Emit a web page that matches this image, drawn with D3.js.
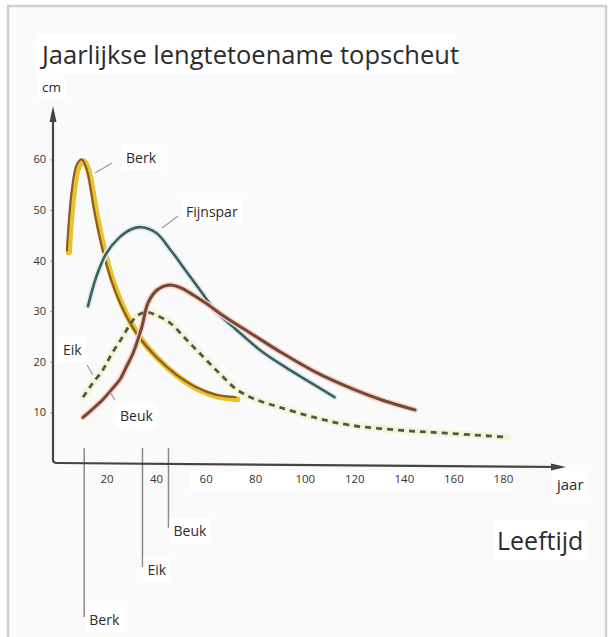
<!DOCTYPE html>
<html>
<head>
<meta charset="utf-8">
<script src="https://cdn.jsdelivr.net/npm/d3@7"></script>
<style>
  body { margin: 0; background: #fff; }
  svg { display: block; font-family: "Open Sans", sans-serif; }
</style>
</head>
<body>
<svg id="chart"></svg>
<script>
// series: age (jaar) and yearly top-shoot growth (cm)
var berkAge = [4, 6, 8, 10, 12, 15, 18, 22, 27, 33, 40, 48, 56, 64, 72];
var berkCm  = [42, 54, 59, 60, 58, 50, 43, 36, 30, 25, 21, 17.5, 15, 13.5, 13];

var fijnsparAge = [12.5, 16, 20, 25, 30, 34, 40, 46, 52, 58, 64, 72, 82, 92, 102, 112];
var fijnsparCm  = [31, 37, 41.5, 44.5, 46.2, 46.6, 45.5, 42, 38, 34, 30, 26.5, 22.3, 19, 16, 13];

var beukAge = [10.5, 14, 18.6, 22, 25.4, 28, 30.7, 34.3, 36.7, 40.4, 45.6, 50, 55, 60, 68, 78, 90, 105, 120, 132, 144.5];
var beukCm  = [9, 10.5, 12.6, 14.5, 16.5, 19, 21.7, 27, 31.6, 34.2, 35.2, 34.6, 33.2, 31.6, 28.8, 25.7, 22, 17.8, 14.5, 12.3, 10.5];

var eikAge = [10.5, 14, 18.6, 22, 26.6, 30, 33, 36.3, 40, 45.6, 52, 59, 66, 72.6, 80, 90, 104, 118, 138, 157, 182];
var eikCm  = [13, 15.5, 18.5, 21.5, 25, 27.8, 29.3, 29.8, 29.2, 27.7, 24.5, 21, 17.5, 14.5, 12.6, 11, 9, 7.5, 6.5, 5.9, 5.1];

// age of the top of each curve, marked below the axis
var peakNames = ["Berk", "Eik", "Beuk"];
var peakAges  = [11, 34.5, 45];

var xTicks = [20, 40, 60, 80, 100, 120, 140, 160, 180];
var yTicks = [10, 20, 30, 40, 50, 60];

var width = 610, height = 637;

var svg = d3.select("#chart")
    .attr("width", width)
    .attr("height", height);

// frame
svg.append("rect")
    .attr("x", 8).attr("y", 6)
    .attr("width", 598).attr("height", 645)
    .attr("fill", "#fafafa")
    .attr("stroke", "#cfcfcf")
    .attr("stroke-width", 2.5);

var x = d3.scaleLinear().domain([0, 200]).range([57, 552.5]);
var y = d3.scaleLinear().domain([0, 60]).range([463, 159.4]);

function zip(a, b) { return a.map(function(v, i) { return [v, b[i]]; }); }

var line = d3.line()
    .x(function(d) { return x(d[0]); })
    .y(function(d) { return y(d[1]); })
    .curve(d3.curveCatmullRom.alpha(0.5));

// text with a white box behind it, like the pasted labels in the original
function label(tx, ty, txt, size, anchor, color) {
  var t = svg.append("text")
      .attr("x", tx).attr("y", ty)
      .attr("font-size", size)
      .attr("fill", color || "#2b2b2b")
      .attr("text-anchor", anchor || "start")
      .text(txt);
  var b = t.node().getBBox();
  svg.insert("rect", function() { return t.node(); })
      .attr("x", b.x - 4).attr("y", b.y - 3)
      .attr("width", b.width + 8).attr("height", b.height + 6)
      .attr("fill", "#fff");
  return t;
}

label(42, 64, "Jaarlijkse lengtetoename topscheut", 25)
    .attr("textLength", 417).attr("lengthAdjust", "spacingAndGlyphs");
label(42, 92, "cm", 13.5);

// axis ticks labels
var gy = svg.append("g")
    .attr("transform", "translate(53,0)")
    .call(d3.axisLeft(y).tickValues(yTicks).tickSize(3).tickPadding(4));
gy.select(".domain").remove();
gy.selectAll("line").attr("stroke", "#aaa");
gy.selectAll("text").attr("font-size", 11).attr("fill", "#333")
    .attr("font-family", "Open Sans, sans-serif");

svg.append("rect")
    .attr("x", 190).attr("y", 471).attr("width", 322).attr("height", 20)
    .attr("fill", "#fff");
var gx = svg.append("g")
    .attr("transform", "translate(0,463)")
    .call(d3.axisBottom(x).tickValues(xTicks).tickSize(0).tickPadding(12));
gx.select(".domain").remove();
gx.selectAll("text").attr("font-size", 11.5).attr("fill", "#333")
    .attr("font-family", "Open Sans, sans-serif");

// peak markers below the axis
var markEnds = [617, 567, 528];
peakAges.forEach(function(a, i) {
  svg.append("line")
      .attr("x1", x(a)).attr("x2", x(a))
      .attr("y1", 448).attr("y2", markEnds[i])
      .attr("stroke", "#8a8a8a").attr("stroke-width", 1.5);
  label(x(a) + 5, markEnds[i] + 8, peakNames[i], 14);
});

// axis lines with arrows
var axisColor = "#444";
svg.append("path")
    .attr("d", "M53,112 L53,460 Q53,463 57,463 L560,467")
    .attr("fill", "none").attr("stroke", axisColor).attr("stroke-width", 2.2);
svg.append("path")
    .attr("d", "M53,106 L49.5,122 L56.5,122 Z").attr("fill", axisColor);
svg.append("path")
    .attr("d", "M566,467 L551,463.5 L551,470.5 Z").attr("fill", axisColor);

label(557, 490, "jaar", 15);
label(497, 550, "Leeftijd", 25);

// curves
var eik = zip(eikAge, eikCm), berk = zip(berkAge, berkCm),
    fijn = zip(fijnsparAge, fijnsparCm), beuk = zip(beukAge, beukCm);

svg.append("path").datum(eik).attr("d", line)
    .attr("fill", "none").attr("stroke", "#f6f4d6").attr("stroke-width", 7)
    .attr("stroke-linecap", "round");

svg.append("path").datum(berk).attr("d", line)
    .attr("transform", "translate(2,2)")
    .attr("fill", "none").attr("stroke", "#e7c42e").attr("stroke-width", 6)
    .attr("stroke-linecap", "round");
svg.append("path").datum(berk).attr("d", line)
    .attr("fill", "none").attr("stroke", "#8c5a2c").attr("stroke-width", 2.2)
    .attr("stroke-linecap", "round");

svg.append("path").datum(fijn).attr("d", line)
    .attr("fill", "none").attr("stroke", "#dcedf2").attr("stroke-width", 6)
    .attr("stroke-linecap", "round");
svg.append("path").datum(fijn).attr("d", line)
    .attr("fill", "none").attr("stroke", "#3e5f5c").attr("stroke-width", 2.6)
    .attr("stroke-linecap", "round");

svg.append("path").datum(beuk).attr("d", line)
    .attr("fill", "none").attr("stroke", "#f0d3c9").attr("stroke-width", 6)
    .attr("stroke-linecap", "round");
svg.append("path").datum(beuk).attr("d", line)
    .attr("fill", "none").attr("stroke", "#7a4634").attr("stroke-width", 3)
    .attr("stroke-linecap", "round");

svg.append("path").datum(eik).attr("d", line)
    .attr("fill", "none").attr("stroke", "#4c5a4a").attr("stroke-width", 2.8)
    .attr("stroke-dasharray", "6,5");

// curve labels with leader lines
function leader(x1, y1, x2, y2) {
  svg.append("line")
      .attr("x1", x1).attr("y1", y1).attr("x2", x2).attr("y2", y2)
      .attr("stroke", "#9a9a9a").attr("stroke-width", 1.2);
}
leader(95, 173, 112, 163);
label(126, 163, "Berk", 14);
leader(162, 228, 178, 216);
label(186, 217, "Fijnspar", 14);
leader(87, 365, 93, 375);
label(63, 355, "Eik", 14);
leader(115, 400, 110, 392);
label(120, 421, "Beuk", 14);
</script>
</body>
</html>
